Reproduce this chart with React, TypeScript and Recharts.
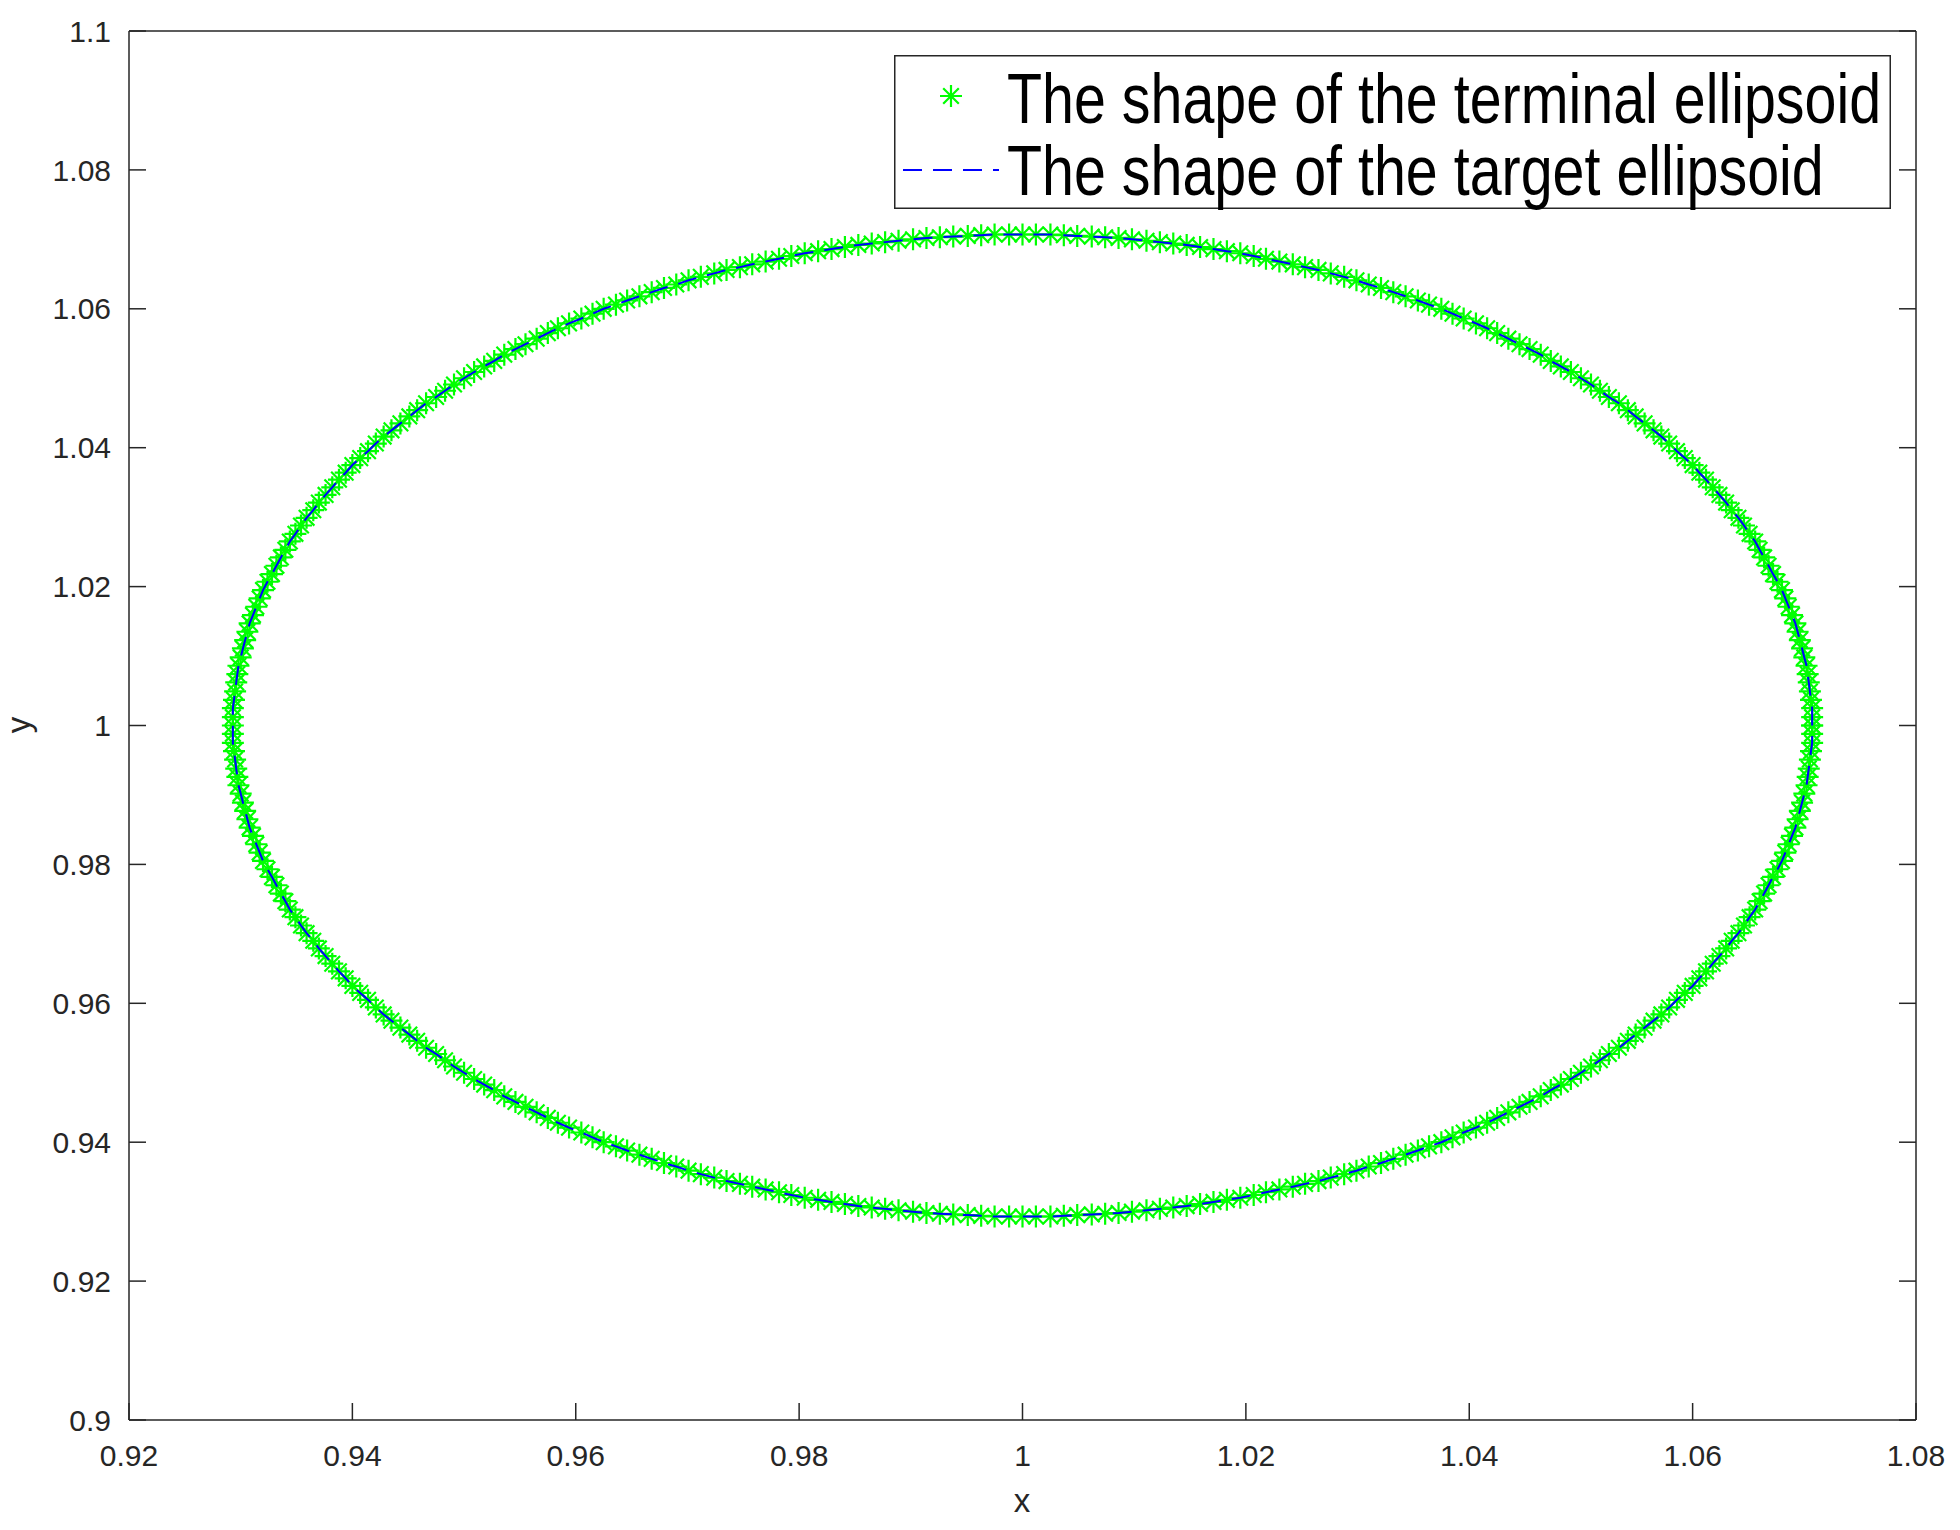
import React from "react"
import { ScatterChart, Scatter, XAxis, YAxis, Legend } from "recharts"

// points along the ellipse, one per degree (center ~ (1, 1), radius ~ 0.0707)
const ellipseX = [
  1.0707, 1.0707, 1.0707, 1.0706, 1.0705, 1.0704, 1.0703, 1.0702, 1.07, 1.0698,
  1.0696, 1.0694, 1.0692, 1.0689, 1.0686, 1.0683, 1.068, 1.0676, 1.0672, 1.0668,
  1.0664, 1.066, 1.0656, 1.0651, 1.0646, 1.0641, 1.0635, 1.063, 1.0624, 1.0618,
  1.0612, 1.0606, 1.06, 1.0593, 1.0586, 1.0579, 1.0572, 1.0565, 1.0557, 1.0549,
  1.0542, 1.0534, 1.0525, 1.0517, 1.0509, 1.05, 1.0491, 1.0482, 1.0473, 1.0464,
  1.0454, 1.0445, 1.0435, 1.0425, 1.0416, 1.0406, 1.0395, 1.0385, 1.0375, 1.0364,
  1.0354, 1.0343, 1.0332, 1.0321, 1.031, 1.0299, 1.0288, 1.0276, 1.0265, 1.0253,
  1.0242, 1.023, 1.0218, 1.0207, 1.0195, 1.0183, 1.0171, 1.0159, 1.0147, 1.0135,
  1.0123, 1.0111, 1.0098, 1.0086, 1.0074, 1.0062, 1.0049, 1.0037, 1.0025, 1.0012,
  1, 0.9988, 0.9975, 0.9963, 0.9951, 0.9938, 0.9926, 0.9914, 0.9902, 0.9889,
  0.9877, 0.9865, 0.9853, 0.9841, 0.9829, 0.9817, 0.9805, 0.9793, 0.9782, 0.977,
  0.9758, 0.9747, 0.9735, 0.9724, 0.9712, 0.9701, 0.969, 0.9679, 0.9668, 0.9657,
  0.9646, 0.9636, 0.9625, 0.9615, 0.9605, 0.9594, 0.9584, 0.9575, 0.9565, 0.9555,
  0.9546, 0.9536, 0.9527, 0.9518, 0.9509, 0.95, 0.9491, 0.9483, 0.9475, 0.9466,
  0.9458, 0.9451, 0.9443, 0.9435, 0.9428, 0.9421, 0.9414, 0.9407, 0.94, 0.9394,
  0.9388, 0.9382, 0.9376, 0.937, 0.9365, 0.9359, 0.9354, 0.9349, 0.9344, 0.934,
  0.9336, 0.9332, 0.9328, 0.9324, 0.932, 0.9317, 0.9314, 0.9311, 0.9308, 0.9306,
  0.9304, 0.9302, 0.93, 0.9298, 0.9297, 0.9296, 0.9295, 0.9294, 0.9293, 0.9293,
  0.9293, 0.9293, 0.9293, 0.9294, 0.9295, 0.9296, 0.9297, 0.9298, 0.93, 0.9302,
  0.9304, 0.9306, 0.9308, 0.9311, 0.9314, 0.9317, 0.932, 0.9324, 0.9328, 0.9332,
  0.9336, 0.934, 0.9344, 0.9349, 0.9354, 0.9359, 0.9365, 0.937, 0.9376, 0.9382,
  0.9388, 0.9394, 0.94, 0.9407, 0.9414, 0.9421, 0.9428, 0.9435, 0.9443, 0.9451,
  0.9458, 0.9466, 0.9475, 0.9483, 0.9491, 0.95, 0.9509, 0.9518, 0.9527, 0.9536,
  0.9546, 0.9555, 0.9565, 0.9575, 0.9584, 0.9594, 0.9605, 0.9615, 0.9625, 0.9636,
  0.9646, 0.9657, 0.9668, 0.9679, 0.969, 0.9701, 0.9712, 0.9724, 0.9735, 0.9747,
  0.9758, 0.977, 0.9782, 0.9793, 0.9805, 0.9817, 0.9829, 0.9841, 0.9853, 0.9865,
  0.9877, 0.9889, 0.9902, 0.9914, 0.9926, 0.9938, 0.9951, 0.9963, 0.9975, 0.9988,
  1, 1.0012, 1.0025, 1.0037, 1.0049, 1.0062, 1.0074, 1.0086, 1.0098, 1.0111,
  1.0123, 1.0135, 1.0147, 1.0159, 1.0171, 1.0183, 1.0195, 1.0207, 1.0218, 1.023,
  1.0242, 1.0253, 1.0265, 1.0276, 1.0288, 1.0299, 1.031, 1.0321, 1.0332, 1.0343,
  1.0354, 1.0364, 1.0375, 1.0385, 1.0395, 1.0406, 1.0416, 1.0425, 1.0435, 1.0445,
  1.0454, 1.0464, 1.0473, 1.0482, 1.0491, 1.05, 1.0509, 1.0517, 1.0525, 1.0534,
  1.0542, 1.0549, 1.0557, 1.0565, 1.0572, 1.0579, 1.0586, 1.0593, 1.06, 1.0606,
  1.0612, 1.0618, 1.0624, 1.063, 1.0635, 1.0641, 1.0646, 1.0651, 1.0656, 1.066,
  1.0664, 1.0668, 1.0672, 1.0676, 1.068, 1.0683, 1.0686, 1.0689, 1.0692, 1.0694,
  1.0696, 1.0698, 1.07, 1.0702, 1.0703, 1.0704, 1.0705, 1.0706, 1.0707, 1.0707,
  1.0707,
]

const ellipseY = [
  1, 1.0012, 1.0025, 1.0037, 1.0049, 1.0062, 1.0074, 1.0086, 1.0098, 1.0111,
  1.0123, 1.0135, 1.0147, 1.0159, 1.0171, 1.0183, 1.0195, 1.0207, 1.0218, 1.023,
  1.0242, 1.0253, 1.0265, 1.0276, 1.0288, 1.0299, 1.031, 1.0321, 1.0332, 1.0343,
  1.0354, 1.0364, 1.0375, 1.0385, 1.0395, 1.0406, 1.0416, 1.0425, 1.0435, 1.0445,
  1.0454, 1.0464, 1.0473, 1.0482, 1.0491, 1.05, 1.0509, 1.0517, 1.0525, 1.0534,
  1.0542, 1.0549, 1.0557, 1.0565, 1.0572, 1.0579, 1.0586, 1.0593, 1.06, 1.0606,
  1.0612, 1.0618, 1.0624, 1.063, 1.0635, 1.0641, 1.0646, 1.0651, 1.0656, 1.066,
  1.0664, 1.0668, 1.0672, 1.0676, 1.068, 1.0683, 1.0686, 1.0689, 1.0692, 1.0694,
  1.0696, 1.0698, 1.07, 1.0702, 1.0703, 1.0704, 1.0705, 1.0706, 1.0707, 1.0707,
  1.0707, 1.0707, 1.0707, 1.0706, 1.0705, 1.0704, 1.0703, 1.0702, 1.07, 1.0698,
  1.0696, 1.0694, 1.0692, 1.0689, 1.0686, 1.0683, 1.068, 1.0676, 1.0672, 1.0668,
  1.0664, 1.066, 1.0656, 1.0651, 1.0646, 1.0641, 1.0635, 1.063, 1.0624, 1.0618,
  1.0612, 1.0606, 1.06, 1.0593, 1.0586, 1.0579, 1.0572, 1.0565, 1.0557, 1.0549,
  1.0542, 1.0534, 1.0525, 1.0517, 1.0509, 1.05, 1.0491, 1.0482, 1.0473, 1.0464,
  1.0454, 1.0445, 1.0435, 1.0425, 1.0416, 1.0406, 1.0395, 1.0385, 1.0375, 1.0364,
  1.0354, 1.0343, 1.0332, 1.0321, 1.031, 1.0299, 1.0288, 1.0276, 1.0265, 1.0253,
  1.0242, 1.023, 1.0218, 1.0207, 1.0195, 1.0183, 1.0171, 1.0159, 1.0147, 1.0135,
  1.0123, 1.0111, 1.0098, 1.0086, 1.0074, 1.0062, 1.0049, 1.0037, 1.0025, 1.0012,
  1, 0.9988, 0.9975, 0.9963, 0.9951, 0.9938, 0.9926, 0.9914, 0.9902, 0.9889,
  0.9877, 0.9865, 0.9853, 0.9841, 0.9829, 0.9817, 0.9805, 0.9793, 0.9782, 0.977,
  0.9758, 0.9747, 0.9735, 0.9724, 0.9712, 0.9701, 0.969, 0.9679, 0.9668, 0.9657,
  0.9646, 0.9636, 0.9625, 0.9615, 0.9605, 0.9594, 0.9584, 0.9575, 0.9565, 0.9555,
  0.9546, 0.9536, 0.9527, 0.9518, 0.9509, 0.95, 0.9491, 0.9483, 0.9475, 0.9466,
  0.9458, 0.9451, 0.9443, 0.9435, 0.9428, 0.9421, 0.9414, 0.9407, 0.94, 0.9394,
  0.9388, 0.9382, 0.9376, 0.937, 0.9365, 0.9359, 0.9354, 0.9349, 0.9344, 0.934,
  0.9336, 0.9332, 0.9328, 0.9324, 0.932, 0.9317, 0.9314, 0.9311, 0.9308, 0.9306,
  0.9304, 0.9302, 0.93, 0.9298, 0.9297, 0.9296, 0.9295, 0.9294, 0.9293, 0.9293,
  0.9293, 0.9293, 0.9293, 0.9294, 0.9295, 0.9296, 0.9297, 0.9298, 0.93, 0.9302,
  0.9304, 0.9306, 0.9308, 0.9311, 0.9314, 0.9317, 0.932, 0.9324, 0.9328, 0.9332,
  0.9336, 0.934, 0.9344, 0.9349, 0.9354, 0.9359, 0.9365, 0.937, 0.9376, 0.9382,
  0.9388, 0.9394, 0.94, 0.9407, 0.9414, 0.9421, 0.9428, 0.9435, 0.9443, 0.9451,
  0.9458, 0.9466, 0.9475, 0.9483, 0.9491, 0.95, 0.9509, 0.9518, 0.9527, 0.9536,
  0.9546, 0.9555, 0.9565, 0.9575, 0.9584, 0.9594, 0.9605, 0.9615, 0.9625, 0.9636,
  0.9646, 0.9657, 0.9668, 0.9679, 0.969, 0.9701, 0.9712, 0.9724, 0.9735, 0.9747,
  0.9758, 0.977, 0.9782, 0.9793, 0.9805, 0.9817, 0.9829, 0.9841, 0.9853, 0.9865,
  0.9877, 0.9889, 0.9902, 0.9914, 0.9926, 0.9938, 0.9951, 0.9963, 0.9975, 0.9988,
  1,
]

const xTicks = [0.92, 0.94, 0.96, 0.98, 1, 1.02, 1.04, 1.06, 1.08]
const yTicks = [0.9, 0.92, 0.94, 0.96, 0.98, 1, 1.02, 1.04, 1.06, 1.08, 1.1]
const seriesNames = ["The shape of the terminal ellipsoid", "The shape of the target ellipsoid"]

const points = ellipseX.map((x, i) => ({ x, y: ellipseY[i] }))

const FONT = '"Liberation Sans", Arial, Helvetica, sans-serif'
const AXIS = "#262626"
const GREEN = "#00ff00"
const BLUE = "#0000ff"

function Star(props: any) {
  const { cx, cy } = props
  if (cx == null || cy == null) return <g />
  const r = 11
  const d = 7.8
  return (
    <path
      d={`M${cx - r},${cy}H${cx + r}M${cx},${cy - r}V${cy + r}M${cx - d},${cy - d}L${cx + d},${cy + d}M${cx - d},${cy + d}L${cx + d},${cy - d}`}
      stroke={GREEN}
      strokeWidth={2.2}
      fill="none"
    />
  )
}

// legend text is a narrow Helvetica in the figure: squeeze Liberation Sans horizontally
const LegendBox = () => (
  <svg width={997} height={154} style={{ display: "block", overflow: "visible" }}>
    <rect x={0.75} y={0.75} width={995.5} height={152.5} fill="#fff" stroke={AXIS} strokeWidth={1.5} />
    <Star cx={57} cy={41} />
    <line x1={9} y1={115} x2={105} y2={115} stroke={BLUE} strokeWidth={1.8} strokeDasharray="19 11" />
    <g transform="translate(113,68) scale(0.82,1)">
      <text x={0} y={0} fontSize={70} fontFamily={FONT} fill="#000">
        {seriesNames[0]}
      </text>
    </g>
    <g transform="translate(113,140) scale(0.82,1)">
      <text x={0} y={0} fontSize={70} fontFamily={FONT} fill="#000">
        {seriesNames[1]}
      </text>
    </g>
  </svg>
)

const tickStyle = { fontSize: 30, fill: AXIS, fontFamily: FONT }
const lineStyle = { stroke: AXIS, strokeWidth: 1.5 }
const noLabel = () => <g />

export default function App() {
  return (
    <div style={{ width: 1960, height: 1530, background: "#fff" }}>
      <style>{"body{margin:0;background:#fff}"}</style>
      <ScatterChart width={1960} height={1530} margin={{ top: 30, right: 43, bottom: 0, left: 29 }}>
        <XAxis
          type="number"
          dataKey="x"
          domain={[0.92, 1.08]}
          ticks={xTicks}
          interval={0}
          allowDataOverflow
          height={110}
          tickSize={-17}
          tickMargin={42}
          tick={tickStyle}
          tickLine={lineStyle}
          axisLine={lineStyle}
          label={{
            content: () => (
              <text x={1022} y={1512} textAnchor="middle" fontSize={33} fill={AXIS} fontFamily={FONT}>
                x
              </text>
            ),
          }}
        />
        <XAxis
          xAxisId="top"
          orientation="top"
          type="number"
          domain={[0.92, 1.08]}
          ticks={xTicks}
          interval={0}
          allowDataOverflow
          height={1}
          tickSize={-17}
          tick={noLabel}
          tickLine={lineStyle}
          axisLine={lineStyle}
        />
        <YAxis
          type="number"
          dataKey="y"
          domain={[0.9, 1.1]}
          ticks={yTicks}
          interval={0}
          allowDataOverflow
          width={100}
          tickSize={-17}
          tickMargin={35}
          tick={tickStyle}
          tickLine={lineStyle}
          axisLine={lineStyle}
          label={{
            content: () => (
              <text
                x={30}
                y={725}
                transform="rotate(-90, 30, 725)"
                textAnchor="middle"
                fontSize={33}
                fill={AXIS}
                fontFamily={FONT}
              >
                y
              </text>
            ),
          }}
        />
        <YAxis
          yAxisId="right"
          orientation="right"
          type="number"
          domain={[0.9, 1.1]}
          ticks={yTicks}
          interval={0}
          allowDataOverflow
          width={1}
          tickSize={-17}
          tick={noLabel}
          tickLine={lineStyle}
          axisLine={lineStyle}
        />
        <Legend
          layout="vertical"
          align="center"
          verticalAlign="middle"
          wrapperStyle={{ left: 894, top: 55, width: 997, height: 154 }}
          content={() => <LegendBox />}
        />
        <Scatter
          name={seriesNames[0]}
          data={points}
          fill={GREEN}
          shape={Star}
          isAnimationActive={false}
        />
        <Scatter
          name={seriesNames[1]}
          data={points}
          fill={BLUE}
          line={{ stroke: BLUE, strokeWidth: 2, strokeDasharray: "19 11" }}
          lineType="joint"
          shape={noLabel}
          isAnimationActive={false}
        />
      </ScatterChart>
    </div>
  )
}
